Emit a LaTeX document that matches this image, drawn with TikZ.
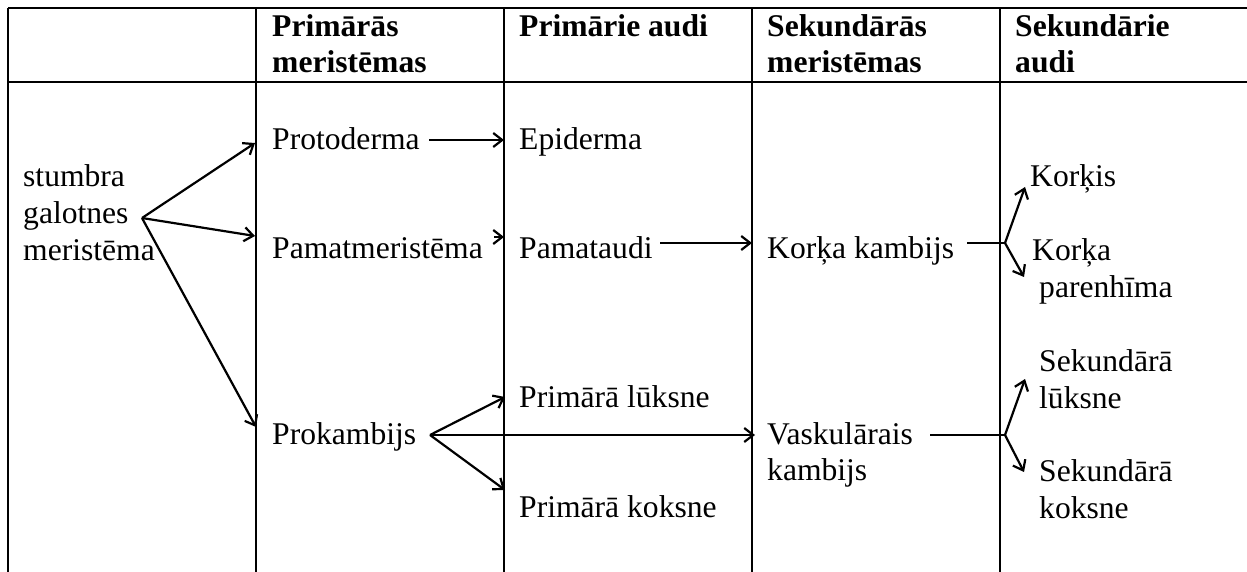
\documentclass[tikz,border=0pt]{standalone}
\usepackage{fontspec}
\setmainfont{Liberation Serif}
\usetikzlibrary{arrows.meta}
\begin{document}
\begin{tikzpicture}[x=1pt,y=-1pt,
  grid/.style={line width=2.7pt},
  arr/.style={line width=2.2pt,-{Straight Barb[length=9pt,width=14pt,line width=2.2pt]}},
  thin/.style={line width=1.2pt},
  txt/.style={anchor=base west,inner sep=0pt,font=\fontsize{31.6}{36.5}\selectfont},
  hdr/.style={txt,font=\fontsize{31.6}{36.5}\selectfont\bfseries}]
\fill[white] (0,0) rectangle (1247,572);
\useasboundingbox (0,0) rectangle (1247,572);
% table
\draw[grid] (8,8) -- (1247,8);
\draw[grid] (8,82) -- (1247,82);
\foreach \xx in {8,256,504,752,1000} \draw[grid] (\xx,8) -- (\xx,572);
% header
\node[hdr] (h1a) at (272,37) {Primārās};
\node[hdr] (h1b) at (272,73) {meristēmas};
\node[hdr] (h2a) at (519,37) {Primārie audi};
\node[hdr] (h3a) at (767,37) {Sekundārās};
\node[hdr] (h3b) at (767,73) {meristēmas};
\node[hdr] (h4a) at (1015,37) {Sekundārie};
\node[hdr] (h4b) at (1015,73) {audi};
% body text
\node[txt] (s1) at (23,187) {stumbra};
\node[txt] (s2) at (23,223) {galotnes};
\node[txt] (s3) at (23,260) {meristēma};
\node[txt] (proto) at (272,150) {Protoderma};
\node[txt] (pamm) at (272,258) {Pamatmeristēma};
\node[txt] (prok) at (272,444) {Prokambijs};
\node[txt] (epi) at (519,150) {Epiderma};
\node[txt] (pama) at (519,258) {Pamataudi};
\node[txt] (plu) at (519,407) {Primārā lūksne};
\node[txt] (pko) at (519,517) {Primārā koksne};
\node[txt] (kk) at (767,258) {Korķa kambijs};
\node[txt] (vk1) at (767,444) {Vaskulārais};
\node[txt] (vk2) at (767,480) {kambijs};
\node[txt] (kor) at (1030,187) {Korķis};
\node[txt] (kp1) at (1032,260) {Korķa};
\node[txt] (kp2) at (1039,297) {parenhīma};
\node[txt] (sl1) at (1039,371) {Sekundārā};
\node[txt] (sl2) at (1039,408) {lūksne};
\node[txt] (sk1) at (1039,481) {Sekundārā};
\node[txt] (sk2) at (1039,518) {koksne};
% connector points
\coordinate (o1) at (142,218);
\coordinate (t1) at (255,143);
\coordinate (t2) at (255,236);
\coordinate (t3) at (256,427);
\coordinate (pr1) at (429,140);
\coordinate (pr2) at (504,140);
\coordinate (pm1) at (494,237);
\coordinate (pm2) at (504,237);
\coordinate (pa1) at (660,243);
\coordinate (pa2) at (752,243);
\coordinate (o2) at (430,435);
\coordinate (u1) at (505,397);
\coordinate (u2) at (505,490);
\coordinate (u3) at (755,435);
\coordinate (k0) at (967,243);
\coordinate (ka) at (1005,243);
\coordinate (ku) at (1025,187);
\coordinate (kd) at (1024,277);
\coordinate (v0) at (930,435);
\coordinate (va) at (1005,435);
\coordinate (vu) at (1025,379);
\coordinate (vd) at (1024,472);
% arrows
\draw[arr] (o1) -- (t1);
\draw[arr] (o1) -- (t2);
\draw[arr] (o1) -- (t3);
\draw[arr] (pr1) -- (pr2);
\draw[arr] (pm1) -- (pm2);
\draw[arr] (pa1) -- (pa2);
\draw[arr] (o2) -- (u1);
\draw[arr] (o2) -- (u2);
\draw[arr] (o2) -- (u3);
\draw[thin] (k0) -- (ka);
\draw[arr] (ka) -- (ku);
\draw[arr] (ka) -- (kd);
\draw[thin] (v0) -- (va);
\draw[arr] (va) -- (vu);
\draw[arr] (va) -- (vd);
\end{tikzpicture}
\end{document}
